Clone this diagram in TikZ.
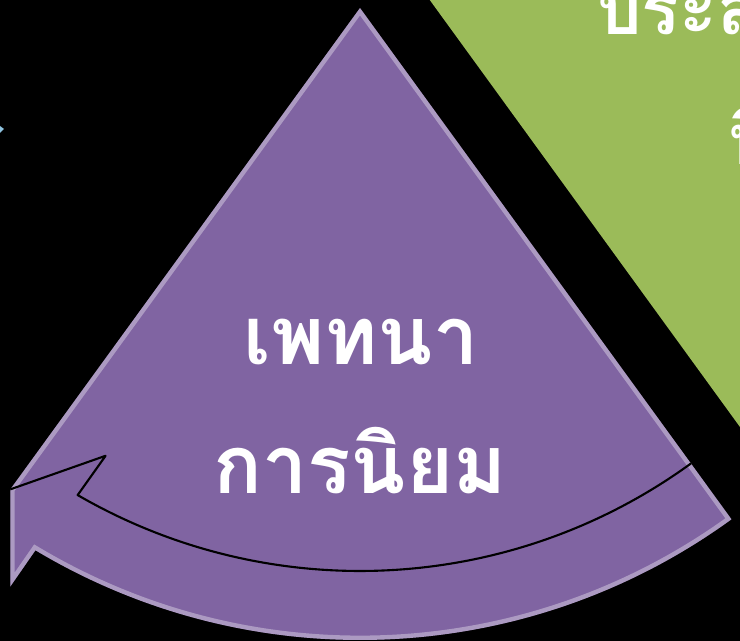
\documentclass[tikz,border=0pt]{standalone}
\usepackage{fontspec}
\usepackage{tikz}
\usetikzlibrary{calc}
\newfontfamily\thaifont[Script=Thai]{Loma}
\definecolor{wedgepurple}{HTML}{8064A2}
\definecolor{wedgegreen}{HTML}{9BBB59}
\definecolor{specblue}{HTML}{8FC3E0}
\tikzset{
  wedge/.style={fill=wedgepurple},
  glow/.style={draw=white,line width=5,opacity=0.35},
  seam/.style={draw=black,line width=1.2,line join=round},
  bigtext/.style={text=white,font=\thaifont\bfseries\fontsize{46}{50}\selectfont,inner sep=0pt},
  greentext/.style={text=white,font=\thaifont\bfseries\fontsize{40}{44}\selectfont,inner sep=0pt},
}

\begin{document}
\begin{tikzpicture}[x=0.02cm,y=0.02cm]
  \useasboundingbox (0,0) rectangle (740,-641);
  \clip (0,0) rectangle (740,-641);
  \fill[black] (0,0) rectangle (740,-641);

  \coordinate (apex) at (360,-8);
  \coordinate (gapex) at (409.5,27.9);

  % green slice, mostly off the page
  \fill[wedgegreen] (gapex) -- ++(-54:632) arc[start angle=-54,end angle=18,radius=632] -- cycle;
  \node[greentext,anchor=base west] (g1) at (597,-35) {ประสบการณ์};
  \node[greentext,anchor=base west] (g2) at (727,-165) {นิยม};

  % purple slice with the bent arrow
  \path[save path=\slicepath]
    (apex) -- ($(apex)+(-126:595)$) coordinate (tip)
    -- ($(apex)+(-121.15:676)$) coordinate (barbout)
    -- ($(apex)+(-120.9:632)$) coordinate (notchout)
    arc[start angle=-120.9,end angle=-54,radius=632] coordinate (endout)
    -- ($(apex)+(-54:563)$) coordinate (endin)
    -- cycle;
  \fill[wedge,use path=\slicepath];
  \begin{scope}
    \clip[use path=\slicepath];
    \draw[glow,use path=\slicepath];
  \end{scope}
  \draw[seam] (endin) arc[start angle=-54,end angle=-120.1,radius=563] coordinate (notchin)
    -- ($(apex)+(-119.6:515)$) coordinate (barbin) -- (tip);

  \node[bigtext,anchor=base] (t1) at (361,-365) {เพทนา};
  \node[bigtext,anchor=base] (t2) at (360,-493) {การนิยม};

  % speck at the left edge
  \fill[specblue] (0,-126) -- (4,-129) -- (0,-133) -- cycle;
\end{tikzpicture}
\end{document}
